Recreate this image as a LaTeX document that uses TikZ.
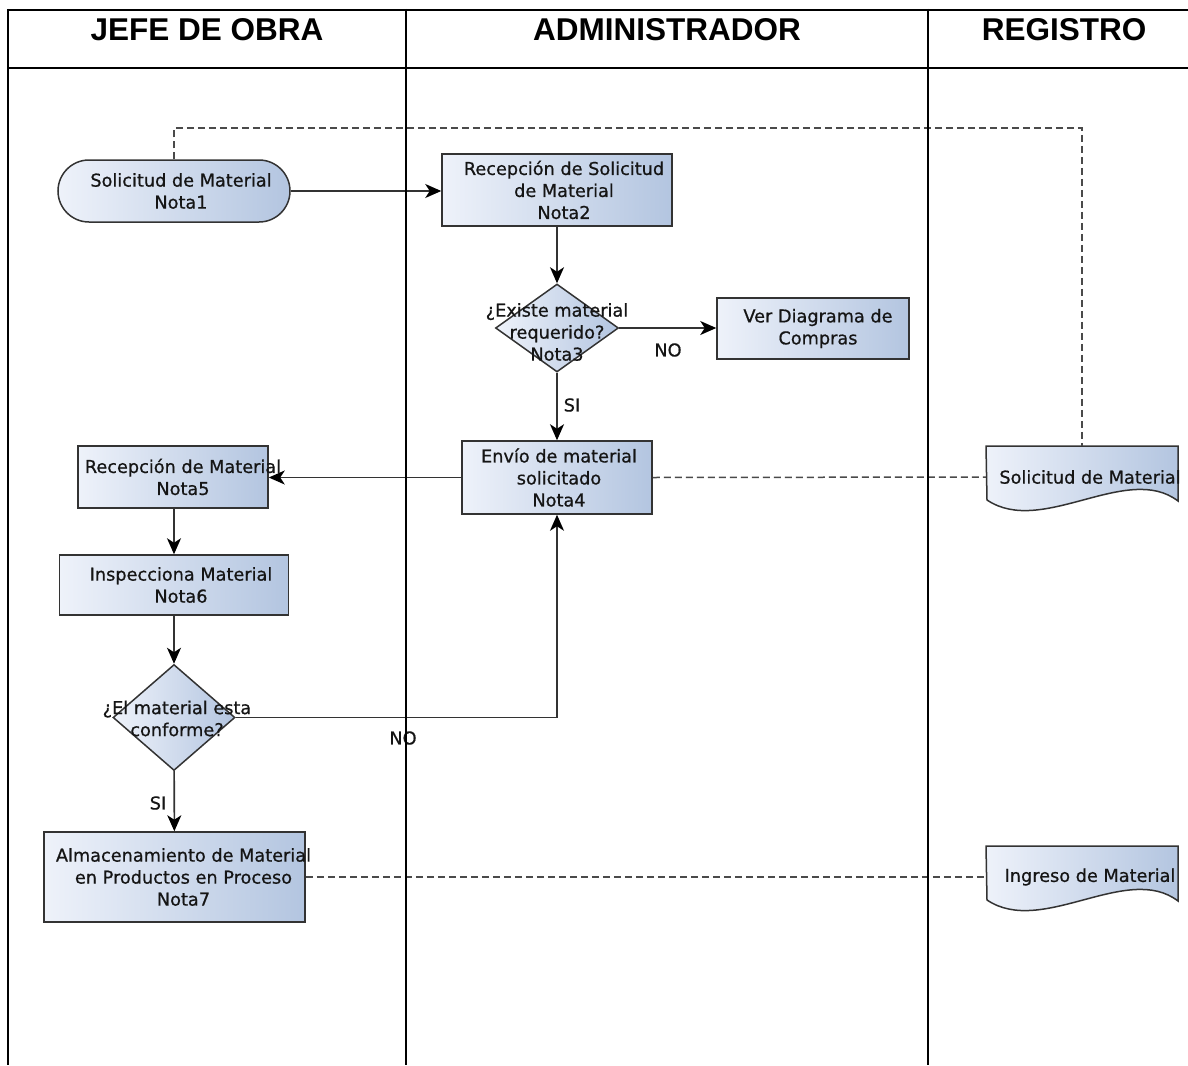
\documentclass[tikz,border=0pt]{standalone}
\usepackage{fontspec}
\setmainfont{DejaVu Sans}
\newfontfamily\nodefont{DejaVu Sans}[FakeBold=0.7]
\newfontfamily\headfont{Liberation Sans}
\usetikzlibrary{shapes.geometric,shapes.misc,arrows.meta,calc}
\definecolor{boxedge}{HTML}{333333}
\definecolor{fillL}{HTML}{EEF2FA}
\definecolor{fillR}{HTML}{B3C5E0}
\definecolor{textc}{HTML}{151515}
\definecolor{lineC}{HTML}{333333}
\definecolor{dashC}{HTML}{4A4A4A}
\newcommand\docshape[1]{%
  \path[box] ($(#1)+(-96,-31)$) -- ($(#1)+(96,-31)$) -- ($(#1)+(96,24)$)
    .. controls ($(#1)+(45,-15)$) and ($(#1)+(-40,60)$) .. ($(#1)+(-95,23)$) -- cycle;}
\begin{document}
\begin{tikzpicture}[x=1pt,y=-1pt,
  box/.style={draw=boxedge, line width=1.5pt, left color=fillL, right color=fillR, inner sep=0pt},
  txt/.style={align=center, font=\nodefont\fontsize{17.7}{22}\selectfont, text=textc, inner sep=0pt, xshift=7pt},
  flow/.style={draw=lineC, line width=1.6pt, -{Stealth[length=16pt,width=14pt,inset=4.5pt,color=black]}},
  refline/.style={draw=dashC, line width=1.5pt, dash pattern=on 7pt off 4pt},
  lane/.style={line width=2.2pt, black},
  lbl/.style={font=\nodefont\fontsize{17.7}{22}\selectfont, text=textc, inner sep=0pt},
  head/.style={font=\headfont\bfseries\fontsize{31.5}{36}\selectfont, inner sep=0pt}]
\useasboundingbox (0,0) rectangle (1188,1065);

% header
\node[head] (h1) at (207,30) {JEFE DE OBRA};
\node[head] (h2) at (667,30) {ADMINISTRADOR};
\node[head] (h3) at (1064,30) {REGISTRO};

% nodes
\node[box, rounded rectangle, minimum width=232pt, minimum height=62pt,
  label={[txt]center:{Solicitud de Material\\Nota1}}] (n1) at (174,191) {};
\node[box, rectangle, minimum width=230pt, minimum height=72pt,
  label={[txt]center:{Recepción de Solicitud\\de Material\\Nota2}}] (n2) at (557,190) {};
\node[box, diamond, minimum width=123pt, minimum height=88pt,
  label={[txt, xshift=-7pt, yshift=-4pt]center:{¿Existe material\\requerido?\\Nota3}}] (d3) at (557,328) {};
\node[box, rectangle, minimum width=192pt, minimum height=61pt,
  label={[txt, xshift=-2pt]center:{Ver Diagrama de\\Compras}}] (n3) at (813,328.5) {};
\node[box, rectangle, minimum width=190pt, minimum height=73pt,
  label={[txt, xshift=-5pt]center:{Envío de material\\solicitado\\Nota4}}] (n4) at (557,477.5) {};
\node[box, rectangle, minimum width=190pt, minimum height=62pt,
  label={[txt, xshift=3pt]center:{Recepción de Material\\Nota5}}] (n5) at (173,477) {};
\node[box, rectangle, minimum width=229pt, minimum height=60pt,
  label={[txt]center:{Inspecciona Material\\Nota6}}] (n6) at (174,585) {};
\node[box, diamond, minimum width=122pt, minimum height=106pt,
  label={[txt, xshift=-4pt, yshift=-1pt]center:{¿El material esta\\conforme?}}] (d7) at (174,717.5) {};
\node[box, rectangle, minimum width=261pt, minimum height=90pt,
  label={[txt, xshift=2pt]center:{Almacenamiento de Material\\en Productos en Proceso\\Nota7}}] (n7) at (174.5,877) {};

% documents
\coordinate (dc1) at (1082,477);
\coordinate (dc2) at (1082,877);
\docshape{dc1}
\docshape{dc2}
\node[rectangle, minimum width=192pt, minimum height=62pt, inner sep=0pt,
  label={[txt, xshift=1pt]center:{Solicitud de Material}}] (doc1) at (dc1) {};
\node[rectangle, minimum width=192pt, minimum height=62pt, inner sep=0pt,
  label={[txt, xshift=1pt]center:{Ingreso de Material}}] (doc2) at (dc2) {};

% flows
\draw[flow] (n1.east) -- (n1.east -| n2.west);
\draw[flow] (n2) -- (d3);
\draw[flow] (d3.east) -- (d3.east -| n3.west);
\draw[flow] (d3) -- (n4);
\draw[flow] (n4.west) -- (n4.west -| n5.east);
\draw[flow] (n5.south -| n6.north) -- (n6.north);
\draw[flow] (n6) -- (d7);
\draw[flow] (d7) -- (n7);
\draw[flow] (d7.east) -| (n4.south);

% dashed references
\coordinate (c1) at (1082,128);
\draw[refline] (n1.north) |- (c1) -- (doc1.north);
\draw[refline] (n4.east) -- (doc1.west);
\draw[refline] (n7.east) -- (doc2.west);

% labels
\node[lbl] (no1) at (668,350) {NO};
\node[lbl] (si1) at (572,405) {SI};
\node[lbl] (no2) at (403,738) {NO};
\node[lbl] (si2) at (158,803) {SI};

% lanes (on top)
\draw[lane] (8,10) -- (1188,10);
\draw[lane] (8,68) -- (1188,68);
\draw[lane] (8,9) -- (8,1065);
\draw[lane] (406,9) -- (406,1065);
\draw[lane] (928,9) -- (928,1065);
\end{tikzpicture}
\end{document}
